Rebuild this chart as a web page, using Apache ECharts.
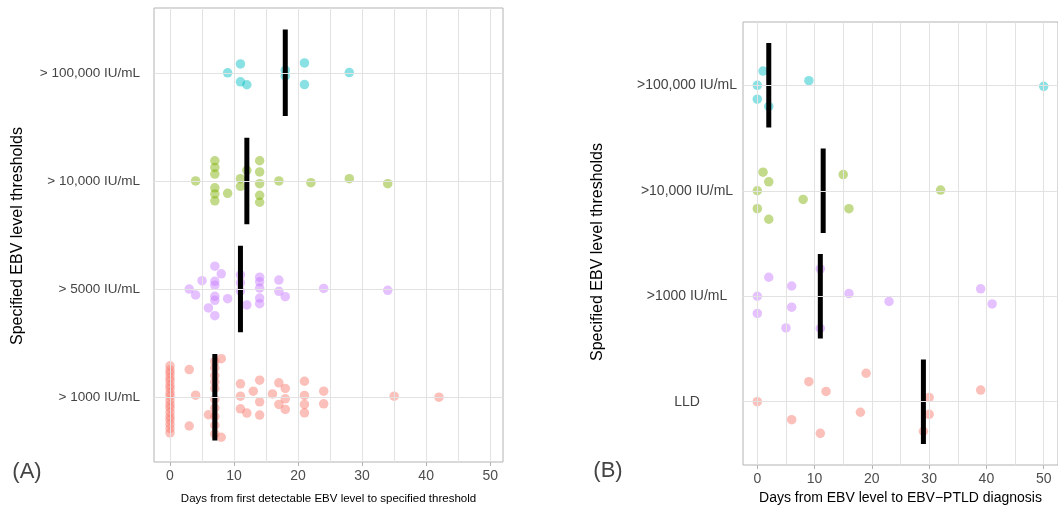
<!DOCTYPE html>
<html>
<head>
<meta charset="utf-8">
<script src="https://cdn.jsdelivr.net/npm/echarts@6/dist/echarts.min.js"></script>
<style>
  html, body { margin: 0; padding: 0; background: #fff; }
  #chart { width: 1058px; height: 510px; }
</style>
</head>
<body>
<div id="chart"></div>
<script>
// levels, bottom to top (y = 1..4)
var levelsA = ['> 1000 IU/mL', '> 5000 IU/mL', '> 10,000 IU/mL', '> 100,000 IU/mL'];
var levelsB = ['LLD', '>1000 IU/mL', '>10,000 IU/mL', '>100,000 IU/mL'];

// panel A: days from first detectable EBV level to threshold, with vertical jitter
var daysA1000 = [0,0,0,0,0,0,0,0,0,0,0,0,0,0,0,0,0,0, 3,3,4,6, 7,7,7,7,7,7,7,7,7,7, 8,8,
  11,11,11,12,13,14,14,14,16,17,17,18,18,18,21,21,21,21,24,24,35,42];
var jitA1000 = [0.29,0.25,0.22,0.18,0.15,0.11,0.08,0.04,0.01,-0.03,-0.07,-0.10,-0.14,-0.18,-0.21,-0.25,-0.29,-0.33,
  0.255,-0.267,0.018,-0.163, 0.33,0.27,0.20,0.14,0.08,-0.02,-0.10,-0.18,-0.26,-0.34, 0.356,-0.371,
  0.123,0.009,-0.108,-0.147,0.055,0.157,-0.043,-0.166,0.03,0.132,-0.067,0.08,-0.016,-0.114,0.147,0.016,-0.067,-0.145,0.055,-0.062,0.009,0];
var daysA5000 = [3,4,5,7,8,7,7,7,7,6,7,9,11,11,11,12,14,14,14,14,14,17,17,18,24,34];
var jitA5000 = [0,-0.055,0.077,0.212,0.141,0.071,0.034,-0.067,-0.104,-0.175,-0.246,-0.089,0.132,0.058,-0.018,-0.147,
  0.11,0.067,0.009,-0.083,-0.135,0.083,-0.021,-0.071,0.006,-0.012];
var daysA10k = [4,7,7,7,7,7,7,9,11,11,12,14,14,14,14,14,17,22,28,34];
var jitA10k = [0,0.187,0.125,0.064,-0.064,-0.12,-0.184,-0.114,0.021,-0.05,0.098,0.187,0.083,-0.025,-0.133,-0.197,0,-0.016,0.021,-0.025];
var daysA100k = [9,11,11,12,18,18,21,21,28];
var jitA100k = [0,0.083,-0.083,-0.11,0.025,-0.028,0.092,-0.108,0.003];
var medianA = [7, 11, 12, 18];

// panel B: days from EBV level to EBV-PTLD diagnosis
var daysBLLD = [0,9,12,6,11,19,18,30,30,29,39];
var jitBLLD = [0,0.19,0.097,-0.17,-0.30,0.27,-0.1,0.04,-0.12,-0.28,0.11];
var daysB1000 = [2,6,0,0,6,5,11,11,16,23,39,41];
var jitB1000 = [0.18,0.097,0,-0.163,-0.104,-0.30,0.26,-0.305,0.025,-0.05,0.07,-0.073];
var daysB10k = [1,2,0,8,0,2,15,16,32];
var jitB10k = [0.176,0.085,0,-0.082,-0.17,-0.27,0.154,-0.17,0.007];
var daysB100k = [1,0,0,2,9,50];
var jitB100k = [0.135,0,-0.132,-0.2,0.044,-0.01];
var medianB = [29, 11, 11.5, 2];

var xTicks = [0, 10, 20, 30, 40, 50];
var xGridLines = [0, 5, 10, 15, 20, 25, 30, 35, 40, 45, 50];
var yTicks = [1, 2, 3, 4];

var colors = ['rgba(248,118,109,0.58)', 'rgba(199,124,255,0.58)', 'rgba(124,174,0,0.58)', 'rgba(0,191,196,0.58)'];
var font = 'Liberation Sans, Arial, sans-serif';
var barHalf = 0.4;

var chart = echarts.init(document.getElementById('chart'));

function pts(days, jit, level) {
  return days.map(function (d, k) { return [d, level + jit[k]]; });
}

var series = [];
function addPanel(idx, groups, medians) {
  // grid lines under everything
  series.push({
    type: 'line', xAxisIndex: idx, yAxisIndex: idx, data: [], silent: true, z: 1,
    markLine: {
      silent: true, symbol: ['none', 'none'], animation: false,
      label: { show: false },
      lineStyle: { color: '#e2e2e2', width: 1, type: 'solid' },
      emphasis: { disabled: true },
      data: xGridLines.map(function (v) { return { xAxis: v }; })
        .concat(yTicks.map(function (v) { return { yAxis: v }; }))
    }
  });
  groups.forEach(function (g, i) {
    series.push({
      type: 'scatter', xAxisIndex: idx, yAxisIndex: idx, z: 3,
      symbolSize: 9.5,
      itemStyle: { color: colors[i] },
      data: pts(g[0], g[1], i + 1)
    });
  });
  medians.forEach(function (m, i) {
    series.push({
      type: 'line', xAxisIndex: idx, yAxisIndex: idx, z: 4,
      symbol: 'none', lineStyle: { color: '#000', width: 5 },
      data: [[m, i + 1 - barHalf], [m, i + 1 + barHalf]]
    });
  });
}

addPanel(0, [[daysA1000, jitA1000], [daysA5000, jitA5000], [daysA10k, jitA10k], [daysA100k, jitA100k]], medianA);
addPanel(1, [[daysBLLD, jitBLLD], [daysB1000, jitB1000], [daysB10k, jitB10k], [daysB100k, jitB100k]], medianB);

function xAxis(idx, min, max, name, nameSize, gap) {
  return {
    type: 'value', gridIndex: idx, min: min, max: max,
    axisLine: { show: false },
    splitLine: { show: false },
    axisTick: { show: true, customValues: xTicks, length: 4, lineStyle: { color: '#b3b3b3' } },
    axisLabel: { customValues: xTicks, color: '#4d4d4d', fontSize: 14, fontFamily: font, margin: 7 },
    name: name, nameLocation: 'middle', nameGap: gap,
    nameTextStyle: { color: '#000', fontSize: nameSize, fontFamily: font }
  };
}

var option = {
  animation: false,
  grid: [
    { left: 154, top: 8, width: 349, height: 456, show: true, borderColor: '#b3b3b3', borderWidth: 1, backgroundColor: '#fff' },
    { left: 743, top: 22, width: 320, height: 445, show: true, borderColor: '#b3b3b3', borderWidth: 1, backgroundColor: '#fff' }
  ],
  xAxis: [
    xAxis(0, -2.5, 52, 'Days from first detectable EBV level to specified threshold', 11.5, 31),
    xAxis(1, -2.5, 52.5, 'Days from EBV level to EBV\u2212PTLD diagnosis', 14, 26)
  ],
  yAxis: [
    {
      type: 'value', gridIndex: 0, min: 0.4, max: 4.6,
      axisLine: { show: false }, splitLine: { show: false },
      axisTick: { show: true, customValues: yTicks, length: 4, lineStyle: { color: '#b3b3b3' } },
      axisLabel: {
        customValues: yTicks, color: '#444', fontSize: 13.5, fontFamily: font, margin: 14,
        formatter: function (v) { return levelsA[Math.round(v) - 1]; }
      }
    },
    {
      type: 'value', gridIndex: 1, min: 0.4, max: 4.6,
      axisLine: { show: false }, splitLine: { show: false },
      axisTick: { show: true, customValues: yTicks, length: 4, lineStyle: { color: '#b3b3b3' } },
      axisLabel: {
        customValues: yTicks, color: '#444', fontSize: 14, fontFamily: font, margin: 56, align: 'center',
        formatter: function (v) { return levelsB[Math.round(v) - 1]; }
      }
    }
  ],
  graphic: [
    { type: 'text', x: 18, y: 236, rotation: Math.PI / 2,
      style: { text: 'Specified EBV level thresholds', fontSize: 16, fontFamily: font, fill: '#000', align: 'center', verticalAlign: 'middle' } },
    { type: 'text', x: 598, y: 252, rotation: Math.PI / 2,
      style: { text: 'Specified EBV level thresholds', fontSize: 16, fontFamily: font, fill: '#000', align: 'center', verticalAlign: 'middle' } },
    { type: 'text', x: 27, y: 472,
      style: { text: '(A)', fontSize: 22, fontFamily: font, fill: '#444', align: 'center', verticalAlign: 'middle' } },
    { type: 'text', x: 608, y: 471,
      style: { text: '(B)', fontSize: 22, fontFamily: font, fill: '#444', align: 'center', verticalAlign: 'middle' } }
  ],
  series: series
};
chart.setOption(option);
</script>
</body>
</html>
